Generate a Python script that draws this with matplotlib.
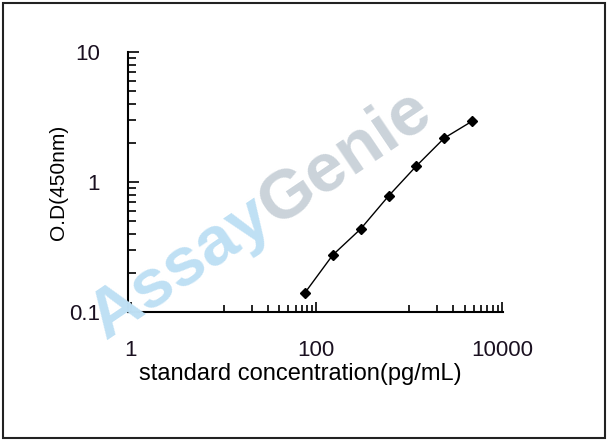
import numpy as np
import matplotlib
matplotlib.use('Agg')
import matplotlib.pyplot as plt
from matplotlib.patches import Rectangle

# standard curve values
conc = [75, 150, 300, 600, 1200, 2400, 4800]
od = [0.140, 0.274, 0.435, 0.78, 1.33, 2.18, 2.94]

x_major = [1, 100, 10000]
x_minor = [10, 20, 30, 40, 50, 60, 70, 80, 90,
           1000, 2000, 3000, 4000, 5000, 6000, 7000, 8000, 9000]
y_major = [0.1, 1, 10]
y_minor = [0.2, 0.3, 0.4, 0.5, 0.6, 0.7, 0.8, 0.9,
           2, 3, 4, 5, 6, 7, 8, 9]

plt.rcParams['font.family'] = ['Liberation Sans', 'DejaVu Sans']

W, H = 608, 441
fig = plt.figure(figsize=(W / 100, H / 100), dpi=100)
ax = fig.add_axes([128 / W, 1 - 312 / H, (503 - 128) / W, (312 - 52) / H])

# watermark
fig.text(180 / W, 1 - 268 / H, 'Assay', color='#bfe0f4', fontsize=50,
         fontweight='bold', rotation=34, ha='center', va='center',
         rotation_mode='anchor', zorder=0)
fig.text(345 / W, 1 - 158 / H, 'Genie', color='#cbd3da', fontsize=50,
         fontweight='bold', rotation=34, ha='center', va='center',
         rotation_mode='anchor', zorder=0)
ax.patch.set_alpha(0)

ax.plot(conc, od, color='black', linewidth=1, marker='D', markersize=5.5)

ax.set_xscale('log')
ax.set_yscale('log')
ax.set_xlim(0.93, 10300)
ax.set_ylim(0.1, 10)

ax.set_xticks(x_major)
ax.set_xticklabels([str(v) for v in x_major])
ax.set_xticks(x_minor, minor=True)
ax.set_yticks(y_major)
ax.set_yticklabels(['0.1', '1', '10'])
ax.set_yticks(y_minor, minor=True)
ax.xaxis.set_minor_formatter(matplotlib.ticker.NullFormatter())
ax.yaxis.set_minor_formatter(matplotlib.ticker.NullFormatter())

ax.spines['top'].set_visible(False)
ax.spines['right'].set_visible(False)
ax.spines['left'].set_linewidth(1.5)
ax.spines['bottom'].set_linewidth(1.5)

ax.tick_params(axis='both', which='both', direction='in', width=1.2,
               colors='black', labelsize=16, labelcolor='#1a1020')
ax.tick_params(axis='x', which='major', length=7, pad=20)
ax.tick_params(axis='x', which='minor', length=5)
ax.tick_params(axis='y', which='major', length=8, pad=20)
ax.tick_params(axis='y', which='minor', length=6)

ax.set_xlabel('standard concentration(pg/mL)', fontsize=17)
ax.xaxis.set_label_coords(0.459, -0.195)
ax.set_ylabel('O.D(450nm)', fontsize=15)
ax.yaxis.set_label_coords(-0.16, 0.5)

fig.add_artist(Rectangle((3 / W, 3 / H), (605 - 3) / W, (438 - 3) / H,
                         transform=fig.transFigure, fill=False,
                         edgecolor='#222222', linewidth=1.5))

fig.savefig('out.png', dpi=100)
